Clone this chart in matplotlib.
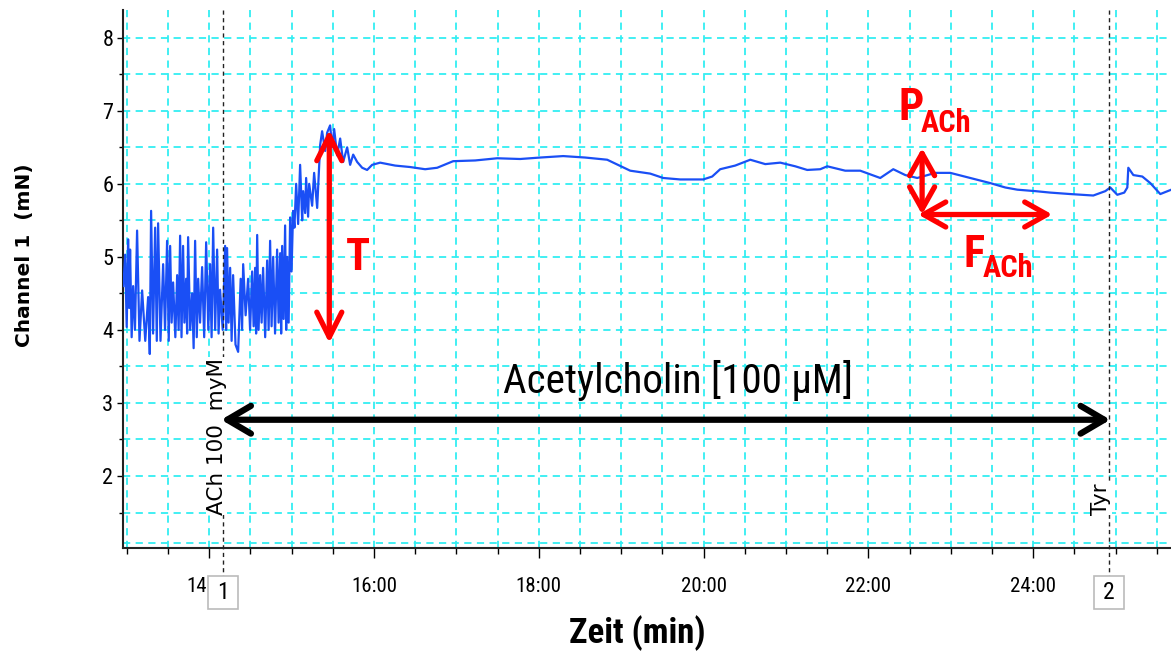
import numpy as np
import matplotlib
matplotlib.use("Agg")
import matplotlib.pyplot as plt
from matplotlib import font_manager
from matplotlib.font_manager import FontProperties
from matplotlib.patches import FancyArrowPatch, ArrowStyle, Rectangle
from matplotlib.ticker import MultipleLocator, FuncFormatter

# --- data: recorded force trace (time in min, force in mN) ---
t_trace = [12.960, 12.981, 13.000, 13.017, 13.030, 13.041, 13.060, 13.078, 13.100, 13.126,
           13.155, 13.187, 13.225, 13.260, 13.280, 13.296, 13.320, 13.345, 13.365, 13.381,
           13.410, 13.442, 13.465, 13.490, 13.510, 13.527, 13.545, 13.563, 13.590, 13.612,
           13.630, 13.648, 13.665, 13.684, 13.700, 13.721, 13.733, 13.745, 13.770, 13.794,
           13.812, 13.830, 13.850, 13.867, 13.890, 13.915, 13.940, 13.964, 13.990, 14.012,
           14.030, 14.049, 14.073, 14.097, 14.115, 14.133, 14.165, 14.194, 14.206, 14.218,
           14.236, 14.255, 14.273, 14.291, 14.320, 14.352, 14.383, 14.400, 14.413, 14.443,
           14.473, 14.497, 14.522, 14.540, 14.558, 14.570, 14.583, 14.600, 14.619, 14.637,
           14.655, 14.680, 14.704, 14.722, 14.740, 14.758, 14.777, 14.800, 14.825, 14.843,
           14.862, 14.874, 14.886, 14.904, 14.922, 14.935, 14.947, 14.965, 14.983, 15.000,
           15.019, 15.035, 15.056, 15.080, 15.104, 15.129, 15.141, 15.165, 15.177, 15.201,
           15.214, 15.250, 15.274, 15.311, 15.347, 15.371, 15.408, 15.432, 15.468, 15.493,
           15.517, 15.553, 15.590, 15.626, 15.675, 15.711, 15.748, 15.796, 15.857, 15.917,
           15.978, 16.075, 16.257, 16.439, 16.621, 16.767, 16.961, 17.228, 17.495, 17.774,
           18.017, 18.296, 18.563, 18.830, 19.109, 19.352, 19.510, 19.716, 19.995, 20.104,
           20.201, 20.383, 20.566, 20.748, 20.930, 21.112, 21.257, 21.415, 21.500, 21.718,
           21.900, 22.143, 22.301, 22.447, 22.592, 22.811, 22.993, 23.235, 23.478, 23.660,
           23.806, 24.024, 24.206, 24.449, 24.728, 24.874, 24.934, 25.019, 25.104, 25.141,
           25.153, 25.214, 25.323, 25.420, 25.541, 25.675]
f_trace = [4.60, 5.03, 4.04, 5.24, 4.30, 5.10, 3.90, 4.60, 4.00, 5.36,
           3.85, 4.54, 3.85, 4.45, 3.67, 5.63, 3.95, 5.40, 3.85, 5.46,
           3.85, 4.90, 4.00, 5.22, 3.85, 5.15, 4.10, 4.65, 3.90, 4.75,
           4.00, 5.29, 3.90, 5.15, 4.10, 4.70, 3.95, 5.27, 4.00, 4.50,
           3.75, 5.22, 3.90, 4.70, 4.10, 4.86, 3.90, 5.20, 4.00, 4.90,
           3.90, 5.40, 4.00, 5.10, 3.95, 4.55, 4.00, 5.15, 4.00, 5.12,
           4.10, 4.85, 3.85, 4.75, 3.80, 3.70, 4.70, 4.00, 4.90, 4.20,
           4.70, 4.00, 4.80, 4.05, 4.85, 3.95, 5.30, 4.00, 4.75, 4.10,
           4.85, 3.90, 4.95, 4.00, 5.22, 4.05, 5.00, 3.95, 5.10, 4.10,
           5.05, 3.95, 5.15, 4.15, 5.43, 4.00, 5.00, 4.10, 5.54, 4.80,
           5.63, 5.40, 6.00, 5.45, 6.26, 5.50, 5.90, 5.60, 6.08, 5.55,
           6.00, 5.70, 6.15, 5.67, 6.53, 6.72, 6.45, 6.70, 6.80, 6.50,
           6.75, 6.39, 6.62, 6.30, 6.50, 6.26, 6.40, 6.30, 6.22, 6.19,
           6.26, 6.29, 6.25, 6.23, 6.20, 6.22, 6.31, 6.32, 6.35, 6.34,
           6.36, 6.38, 6.36, 6.33, 6.18, 6.14, 6.08, 6.06, 6.06, 6.10,
           6.20, 6.25, 6.33, 6.27, 6.29, 6.24, 6.19, 6.20, 6.24, 6.18,
           6.18, 6.08, 6.20, 6.12, 6.08, 6.15, 6.15, 6.08, 6.01, 5.95,
           5.92, 5.90, 5.88, 5.86, 5.84, 5.90, 5.95, 5.85, 5.88, 5.95,
           6.22, 6.12, 6.10, 6.01, 5.86, 5.92]

# event markers
marker_t = [14.17, 24.92]
marker_num = ['1', '2']
marker_label = ['ACh 100  myM', 'Tyr']

# annotation arrows (time, force)
T_arrow = [(15.458, 6.74), (15.458, 3.82)]
ach_arrow = [(14.146, 2.77), (24.935, 2.77)]
P_arrow = [(22.651, 6.49), (22.651, 5.58)]
F_arrow = [(22.603, 5.58), (24.231, 5.58)]


# look for a narrow / condensed sans font, the original uses one
def is_cond(fe):
    s = str(fe.stretch).lower()
    return ('condensed' in s or 'narrow' in fe.name.lower() or 'condensed' in fe.name.lower()
            or (s.isdigit() and int(s) < 500))


def wnum(w):
    if isinstance(w, str):
        return {'bold': 700, 'normal': 400, 'regular': 400}.get(w, 400)
    return w


cands = [fe for fe in font_manager.fontManager.ttflist
         if is_cond(fe) and fe.style == 'normal']
pref = ['Liberation Sans Narrow', 'Roboto Condensed', 'Open Sans Condensed', 'Noto Sans',
        'Arimo', 'DejaVu Sans']
reg_file, bold_file = None, None
for fam in pref + sorted({fe.name for fe in cands}):
    fams = [fe for fe in cands if fe.name == fam]
    regs = [fe for fe in fams if wnum(fe.weight) == 400]
    bolds = [fe for fe in fams if wnum(fe.weight) == 700]
    if regs and bolds:
        reg_file, bold_file = regs[0].fname, bolds[0].fname
        break

if reg_file:
    fp_reg = lambda size: FontProperties(fname=reg_file, size=size)
    fp_bold = lambda size: FontProperties(fname=bold_file, size=size)
    k = 1.0
else:
    fp_reg = lambda size: FontProperties(family='Liberation Sans', size=size)
    fp_bold = lambda size: FontProperties(family='Liberation Sans', weight='bold', size=size)
    k = 0.86

grid_c = '#33eef2'
trace_c = '#1a4ff5'

fig = plt.figure(figsize=(11.71, 6.57), dpi=100)
ax = fig.add_axes([123 / 1171, 109 / 657, 1 - 123 / 1171, 538 / 657])
ax.set_xlim(12.955, 25.671)
ax.set_ylim(1.014, 8.38)

ax.xaxis.set_major_locator(MultipleLocator(2))
ax.xaxis.set_minor_locator(MultipleLocator(0.5))
ax.yaxis.set_major_locator(MultipleLocator(1))
ax.yaxis.set_minor_locator(MultipleLocator(0.5))
ax.xaxis.set_major_formatter(FuncFormatter(lambda v, p: '%d:00' % round(v)))
ax.set_yticks([2, 3, 4, 5, 6, 7, 8])
ax.grid(which='both', color=grid_c, linestyle=(0, (4, 3)), linewidth=1.3)
ax.axhline(1.08, color=grid_c, linestyle=(0, (4, 3)), linewidth=1.3, zorder=0.5)
ax.set_axisbelow(True)
for s in ['top', 'right']:
    ax.spines[s].set_visible(False)
for s in ['left', 'bottom']:
    ax.spines[s].set_linewidth(1.5)
    ax.spines[s].set_color('#222222')
ax.tick_params(axis='x', which='major', length=7, width=1, pad=14)
ax.tick_params(axis='x', which='minor', length=4, width=1)
ax.tick_params(axis='y', which='major', length=4, width=1, pad=3)
ax.tick_params(axis='y', which='minor', length=3, width=1)
for lbl in ax.get_xticklabels():
    lbl.set_fontproperties(fp_reg(15 * k))
for lbl in ax.get_yticklabels():
    lbl.set_fontproperties(fp_reg(16 * k))

ax.plot(t_trace, f_trace, color=trace_c, linewidth=1.6, zorder=3)

# event lines, labels and number boxes
for i in range(2):
    ax.plot([marker_t[i], marker_t[i]], [8.38, 0.63], color='#222222', linewidth=1,
            linestyle=(0, (3, 2.5)), clip_on=False, zorder=4)
    ax.add_patch(Rectangle((marker_t[i] - 0.185, 0.18), 0.37, 0.45, facecolor='white',
                           edgecolor='#bbbbbb', linewidth=1.2, clip_on=False, zorder=6))
    ax.text(marker_t[i], 0.40, marker_num[i], ha='center', va='center',
            fontproperties=fp_reg(17), clip_on=False, zorder=7)
ax.text(marker_t[0] - 0.08, 1.47, marker_label[0], rotation=90, ha='center', va='bottom',
        fontsize=15.5, family='DejaVu Sans', zorder=5,
        bbox=dict(facecolor='white', edgecolor='none', pad=0.5))
ax.text(marker_t[1] - 0.1, 1.47, marker_label[1], rotation=90, ha='center', va='bottom',
        fontsize=15.5, family='DejaVu Sans', zorder=5,
        bbox=dict(facecolor='white', edgecolor='none', pad=0.5))


# arrows
def arrow(p, color, lw, hl, hw):
    a = FancyArrowPatch(p[0], p[1], arrowstyle=ArrowStyle('<->', head_length=hl, head_width=hw),
                        color=color, linewidth=lw, shrinkA=0, shrinkB=0, zorder=8,
                        mutation_scale=1)
    ax.add_patch(a)


arrow(T_arrow, 'red', 3.8, 18, 9)
arrow(P_arrow, 'red', 3.8, 16, 9)
arrow(F_arrow, 'red', 3.8, 16, 9)
arrow(ach_arrow, 'black', 4.5, 17, 10)

ax.text(15.81, 4.99, 'T', color='red', fontproperties=fp_bold(32 * k), ha='center',
        va='center', zorder=9)
ax.text(22.37, 6.877, 'P', color='red', fontproperties=fp_bold(32 * k), va='baseline', zorder=9)
ax.text(22.63, 6.712, 'ACh', color='red', fontproperties=fp_bold(22 * k), va='baseline', zorder=9)
ax.text(23.15, 4.863, 'F', color='red', fontproperties=fp_bold(32 * k), va='baseline', zorder=9)
ax.text(23.39, 4.726, 'ACh', color='red', fontproperties=fp_bold(22 * k), va='baseline', zorder=9)
ax.text(19.69, 3.13, 'Acetylcholin [100 µM]', color='black', fontproperties=fp_reg(29.5 * k),
        ha='center', va='baseline', zorder=9)

fig.text(637 / 1171, 1 - 633 / 657, 'Zeit (min)', fontproperties=fp_bold(25 * k),
         ha='center', va='center')
fig.text(25 / 1171, 1 - 255 / 657, 'Channel 1  (mN)', fontsize=14.5, fontweight='bold',
         family='DejaVu Sans', rotation=90, ha='center', va='center')

plt.savefig('out.png', dpi=100)
